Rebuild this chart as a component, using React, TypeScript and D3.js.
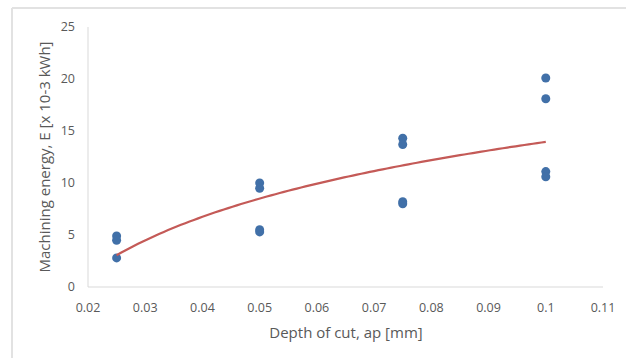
import React from "react";
import * as d3 from "d3";

// Depth of cut (mm) for each measurement
const depthOfCut = [
  0.025, 0.025, 0.025,
  0.05, 0.05, 0.05, 0.05,
  0.075, 0.075, 0.075, 0.075,
  0.1, 0.1, 0.1, 0.1,
];
// Machining energy (x 10^-3 kWh)
const machiningEnergy = [
  4.9, 4.5, 2.8,
  10.0, 9.5, 5.5, 5.3,
  14.3, 13.7, 8.2, 8.0,
  20.1, 18.1, 11.1, 10.6,
];

// Logarithmic trend line: E = a * ln(ap) + b
const trendA = 7.86;
const trendB = 32.05;
const trendRange = [0.025, 0.1];

const xTicks = [0.02, 0.03, 0.04, 0.05, 0.06, 0.07, 0.08, 0.09, 0.1, 0.11];
const yTicks = [0, 5, 10, 15, 20, 25];

const xTitle = "Depth of cut, ap [mm]";
const yTitle = "Machining energy, E [x 10-3 kWh]";

const W = 626;
const H = 358;

export default function App() {
  const x = d3.scaleLinear().domain([0.02, 0.11]).range([88, 603]);
  const y = d3.scaleLinear().domain([0, 25]).range([287, 27]);

  const trendPts = d3
    .range(0, 101)
    .map((i) => trendRange[0] + ((trendRange[1] - trendRange[0]) * i) / 100)
    .map((v) => [v, trendA * Math.log(v) + trendB] as [number, number]);
  const trendPath = d3
    .line<[number, number]>()
    .x((d) => x(d[0]))
    .y((d) => y(d[1]))(trendPts);

  const font = "'Open Sans', 'Liberation Sans', Arial, sans-serif";
  const textColor = "#595959";

  return (
    <svg
      width={W}
      height={H}
      style={{ position: "absolute", left: 0, top: 0, display: "block" }}
      fontFamily={font}
    >
      <rect x={0} y={0} width={W} height={H} fill="#ffffff" />
      {/* chart frame */}
      <line x1={12} x2={W} y1={8} y2={8} stroke="#e2e2e2" strokeWidth={2} />
      <line x1={12} x2={12} y1={8} y2={H} stroke="#e2e2e2" strokeWidth={2} />

      {/* axes */}
      <line x1={x(0.02)} x2={x(0.02)} y1={y(25)} y2={y(0)} stroke="#d9d9d9" strokeWidth={1} />
      <line x1={x(0.02)} x2={x(0.11)} y1={y(0)} y2={y(0)} stroke="#d9d9d9" strokeWidth={1} />

      {yTicks.map((t) => (
        <text
          key={"y" + t}
          x={75}
          y={y(t)}
          dy="0.35em"
          textAnchor="end"
          fontSize={12.5}
          fill={textColor}
        >
          {t}
        </text>
      ))}
      {xTicks.map((t) => (
        <text
          key={"x" + t}
          x={x(t)}
          y={312}
          textAnchor="middle"
          fontSize={12.5}
          fill={textColor}
        >
          {t}
        </text>
      ))}

      <text
        x={346}
        y={338}
        textAnchor="middle"
        fontSize={15}
        fill={textColor}
      >
        {xTitle}
      </text>
      <text
        transform={`translate(50, 157) rotate(-90)`}
        textAnchor="middle"
        fontSize={15}
        fill={textColor}
      >
        {yTitle}
      </text>

      {/* measured points */}
      {depthOfCut.map((d, i) => (
        <circle
          key={"p" + i}
          cx={x(d)}
          cy={y(machiningEnergy[i])}
          r={4.5}
          fill="#4170a8"
        />
      ))}

      {/* trend line */}
      <path d={trendPath ?? ""} fill="none" stroke="#c45a57" strokeWidth={2.2} />
    </svg>
  );
}
